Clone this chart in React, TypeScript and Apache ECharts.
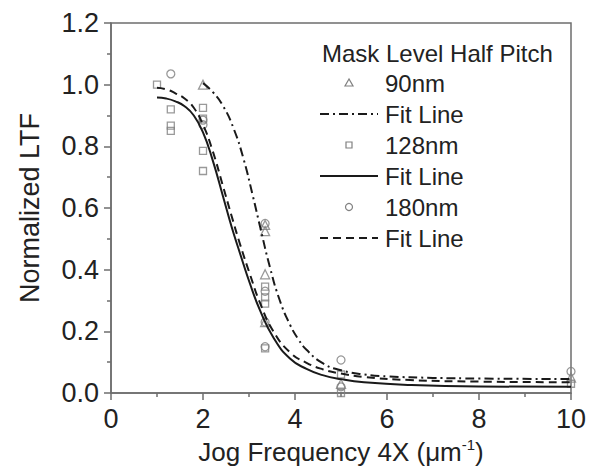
import React, { useEffect, useRef } from "react";
import * as echarts from "echarts";

const xTicks = [0, 2, 4, 6, 8, 10];
const yTicks = [0, 0.2, 0.4, 0.6, 0.8, 1.0, 1.2];

const pts90: number[][] = [
  [2, 1.0], [3.35, 0.545], [3.35, 0.525], [3.35, 0.385], [3.35, 0.23], [5, 0.03], [10, 0.05],
];
const pts128: number[][] = [
  [1, 1.0], [1.3, 0.92], [1.3, 0.867], [1.3, 0.85], [2, 0.925], [2, 0.89], [2, 0.785], [2, 0.72],
  [3.35, 0.345], [3.35, 0.31], [3.35, 0.29], [3.35, 0.145], [5, 0.06], [5, 0.0], [10, 0.03],
];
const pts180: number[][] = [
  [1.3, 1.035], [2, 0.885], [2, 0.87], [3.35, 0.55], [3.35, 0.33], [3.35, 0.23], [3.35, 0.15],
  [5, 0.107], [5, 0.02], [10, 0.07],
];

const fit90: number[][] = [
  [2.0, 1.005], [2.22, 0.975], [2.44, 0.93], [2.66, 0.86], [2.88, 0.76], [3.09, 0.635], [3.24, 0.54],
  [3.46, 0.405], [3.67, 0.3], [3.89, 0.222], [4.07, 0.175], [4.25, 0.14], [4.62, 0.095], [5.0, 0.074],
  [5.5, 0.06], [6.0, 0.054], [7.0, 0.049], [8, 0.047], [10, 0.045],
];
const fit128: number[][] = [
  [1.0, 0.958], [1.2, 0.955], [1.4, 0.946], [1.6, 0.93], [1.8, 0.9], [2.0, 0.845], [2.2, 0.76],
  [2.44, 0.635], [2.62, 0.54], [2.8, 0.455], [3.02, 0.355], [3.24, 0.268], [3.53, 0.18], [3.89, 0.112],
  [4.25, 0.078], [4.6, 0.058], [5.0, 0.045], [5.5, 0.035], [6.5, 0.026], [8, 0.021], [10, 0.02],
];
const fit180: number[][] = [
  [1.0, 0.99], [1.2, 0.985], [1.4, 0.972], [1.6, 0.955], [1.8, 0.925], [2.0, 0.87], [2.2, 0.79],
  [2.44, 0.668], [2.62, 0.575], [2.8, 0.485], [3.02, 0.385], [3.24, 0.292], [3.53, 0.2], [3.89, 0.132],
  [4.25, 0.098], [4.6, 0.077], [5.0, 0.063], [5.5, 0.052], [6.5, 0.042], [8, 0.037], [10, 0.035],
];

const legendTitle = "Mask Level Half Pitch";
const legendLabels = ["90nm", "Fit Line", "128nm", "Fit Line", "180nm", "Fit Line"];

const FONT = "'Liberation Sans', Arial, Helvetica, sans-serif";
const MARK = "#808080";
const LINE = "#1a1a1a";
const DASHDOT = [9, 4, 2, 4];
const DASH = [8, 5];

export default function App() {
  const ref = useRef<HTMLDivElement>(null);
  useEffect(() => {
    if (!ref.current) return;
    const chart = echarts.init(ref.current, undefined, { renderer: "svg" });
    const markStyle = { color: "rgba(0,0,0,0)", borderColor: MARK, borderWidth: 1.3 };
    const rowY = [83, 114, 145, 176, 207, 238];
    const symX = 349;
    const textX = 385;
    const graphics: any[] = [
      {
        type: "text",
        style: { text: legendTitle, x: 322, y: 53, fontSize: 24, fontFamily: FONT, fill: "#222", verticalAlign: "middle" },
      },
    ];
    legendLabels.forEach((t, i) => {
      graphics.push({
        type: "text",
        style: { text: t, x: textX, y: rowY[i], fontSize: 24, fontFamily: FONT, fill: "#222", verticalAlign: "middle" },
      });
    });
    const ms = { fill: "none", stroke: MARK, lineWidth: 1.2 };
    graphics.push({ type: "polygon", shape: { points: [[symX, rowY[0] - 4], [symX - 4, rowY[0] + 3], [symX + 4, rowY[0] + 3]] }, style: ms });
    graphics.push({ type: "rect", shape: { x: symX - 3, y: rowY[2] - 3, width: 6, height: 6 }, style: ms });
    graphics.push({ type: "circle", shape: { cx: symX, cy: rowY[4], r: 3.5 }, style: ms });
    const lineDefs = [
      { y: rowY[1], dash: DASHDOT },
      { y: rowY[3], dash: null },
      { y: rowY[5], dash: DASH },
    ];
    lineDefs.forEach((d) => {
      graphics.push({
        type: "line",
        shape: { x1: 320, y1: d.y, x2: 378, y2: d.y },
        style: { stroke: LINE, lineWidth: 2, lineDash: d.dash || undefined },
      });
    });

    const lineSeries = (data: number[][], type: any) => ({
      type: "line",
      data,
      smooth: 0.5,
      showSymbol: false,
      lineStyle: { color: LINE, width: 2, type },
      z: 4,
    });

    chart.setOption({
      animation: false,
      backgroundColor: "#fff",
      grid: { left: 111, right: 19, top: 23, bottom: 81, show: true, borderColor: "#6e6e6e", borderWidth: 1.5, backgroundColor: "transparent" },
      xAxis: {
        type: "value",
        min: 0,
        max: 10,
        interval: 2,
        name: "Jog Frequency 4X (μm{sup|-1})",
        nameLocation: "middle",
        nameGap: 42,
        nameTextStyle: {
          fontSize: 26,
          fontFamily: FONT,
          color: "#222",
          lineHeight: 30,
          rich: { sup: { fontSize: 15, fontFamily: FONT, color: "#222", lineHeight: 14, verticalAlign: "top" } },
        },
        axisLine: { show: true, onZero: false, lineStyle: { color: "#6e6e6e", width: 1.5 } },
        axisTick: { show: true, inside: false, length: 7, lineStyle: { color: "#6e6e6e", width: 1.5 } },
        minorTick: { show: true, splitNumber: 2, length: 4, lineStyle: { color: "#6e6e6e", width: 1.5 } },
        splitLine: { show: false },
        axisLabel: { fontSize: 27, fontFamily: FONT, color: "#222", margin: 12, customValues: xTicks },
      },
      yAxis: {
        type: "value",
        min: 0,
        max: 1.2,
        interval: 0.2,
        name: "Normalized LTF",
        nameLocation: "middle",
        nameGap: 68,
        nameRotate: 90,
        nameTextStyle: { fontSize: 27, fontFamily: FONT, color: "#222" },
        axisLine: { show: true, onZero: false, lineStyle: { color: "#6e6e6e", width: 1.5 } },
        axisTick: { show: true, inside: false, length: 7, lineStyle: { color: "#6e6e6e", width: 1.5 } },
        minorTick: { show: true, splitNumber: 2, length: 4, lineStyle: { color: "#6e6e6e", width: 1.5 } },
        splitLine: { show: false },
        axisLabel: {
          fontSize: 27,
          fontFamily: FONT,
          color: "#222",
          margin: 12,
          formatter: (v: number) => (yTicks.some((t) => Math.abs(t - v) < 1e-9) ? v.toFixed(1) : ""),
        },
      },
      graphic: graphics,
      series: [
        { type: "scatter", data: pts90, symbol: "triangle", symbolSize: 9, itemStyle: markStyle, z: 3 },
        { type: "scatter", data: pts128, symbol: "rect", symbolSize: 7, itemStyle: markStyle, z: 3 },
        { type: "scatter", data: pts180, symbol: "circle", symbolSize: 8, itemStyle: markStyle, z: 3 },
        lineSeries(fit90, DASHDOT),
        lineSeries(fit128, "solid"),
        lineSeries(fit180, DASH),
      ],
    });
    return () => chart.dispose();
  }, []);
  return <div ref={ref} style={{ width: 590, height: 474, position: "absolute", left: 0, top: 0 }} />;
}
